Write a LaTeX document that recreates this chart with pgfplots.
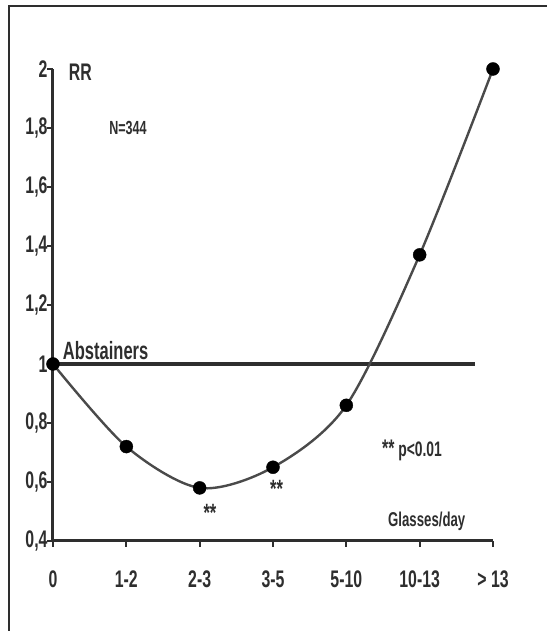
\documentclass[border=0pt]{standalone}
\usepackage{fontspec}
\setmainfont{Liberation Sans}[FakeStretch=0.66]
\usepackage{pgfplots}
\pgfplotsset{compat=1.18}
\definecolor{ink}{HTML}{2E2E2E}
\definecolor{curve}{HTML}{4A4A4A}
\begin{document}
\begin{tikzpicture}
\begin{axis}[
  at={(0pt,0pt)}, anchor=south west,
  scale only axis, width=440pt, height=472pt,
  xmin=0, xmax=6, ymin=0.4, ymax=2,
  axis lines=left, axis line style={-, line width=3pt, ink},
  xtick={0,1,2,3,4,5,6},
  xticklabels={0,1-2,2-3,3-5,5-10,10-13,{> 13}},
  ytick={0.4,0.6,0.8,1,1.2,1.4,1.6,1.8,2},
  tick align=outside, major tick length=6pt,
  tick style={line width=2pt, ink},
  /pgf/number format/assume math mode=true,
  /pgf/number format/use comma,
  /pgf/number format/fixed,
  /pgf/number format/fixed zerofill=false,
  ticklabel style={font=\bfseries\fontsize{24}{24}\selectfont, text=ink},
  xticklabel style={yshift=-20pt},
  yticklabel style={xshift=4pt},
  clip=false,
]
\addplot[line width=3.5pt, ink] coordinates {(0,1) (5.75,1)};
\addplot[smooth, line width=2.4pt, curve] coordinates {
 (0,1.0) (1,0.72) (2,0.58) (3,0.65) (4,0.86) (5,1.37) (6,2.0)};
\addplot[only marks, mark=*, mark size=6.5pt, black] coordinates {
 (0,1.0) (1,0.72) (2,0.58) (3,0.65) (4,0.86) (5,1.37) (6,2.0)};
\node[anchor=west, text=ink, font=\bfseries\fontsize{24}{24}\selectfont] at (axis cs:0.17,1.99) {RR};
\node[anchor=west, text=ink, font=\bfseries\fontsize{19}{19}\selectfont] at (axis cs:0.72,1.8) {N=344};
\node[anchor=south west, text=ink, font=\bfseries\fontsize{25}{25}\selectfont, inner sep=1pt] at (axis cs:0.12,1.01) {Abstainers};
\node[anchor=west, text=ink, font=\bfseries\fontsize{21}{21}\selectfont] at (axis cs:4.44,0.708) {{\fontsize{24}{24}\selectfont **} p<0.01};
\node[text=ink, font=\bfseries\fontsize{25}{25}\selectfont] at (axis cs:2.14,0.495) {**};
\node[text=ink, font=\bfseries\fontsize{25}{25}\selectfont] at (axis cs:3.05,0.575) {**};
\node[anchor=east, text=ink, font=\bfseries\fontsize{20}{20}\selectfont] at (axis cs:5.67,0.465) {Glasses/day};
\end{axis}
\draw[line width=2pt, ink] (-44pt,-90pt) -- (-44pt,535pt) -- (494pt,535pt);
\pgfresetboundingbox
\useasboundingbox (-53pt,-90pt) rectangle (494pt,541pt);
\end{tikzpicture}
\end{document}
